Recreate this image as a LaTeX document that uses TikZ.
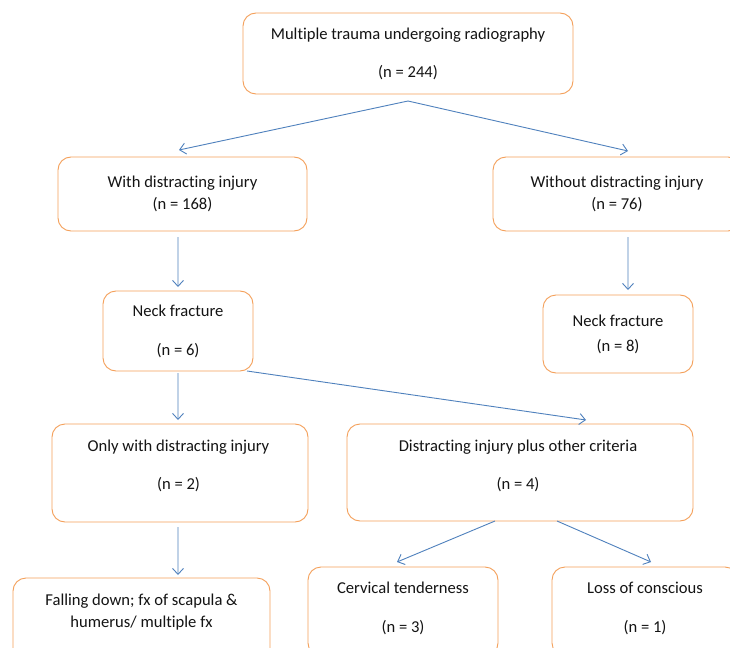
\documentclass[tikz,border=0pt]{standalone}
\usepackage{fontspec}
\setmainfont[Ligatures={NoCommon}]{Carlito}
\usetikzlibrary{arrows.meta}
\definecolor{boxorange}{RGB}{244,160,90}
\definecolor{arrblue}{RGB}{79,129,189}
\tikzset{
  box/.style={draw=boxorange, line width=0.9bp, rounded corners=13bp, inner sep=0pt, outer sep=0pt, fill=white},
  txt/.style={anchor=base, inner sep=0pt, font=\fontsize{16.6bp}{19bp}\selectfont, text=black!92},
  arr/.style={draw=arrblue, line width=0.9bp, -{Straight Barb[length=6bp,width=11bp]}}
}
\begin{document}
\begin{tikzpicture}[x=1bp,y=-1bp]
\fill[white] (0,0) rectangle (730,648);
\useasboundingbox (0,0) rectangle (730,648);
\begin{scope}
\clip (0,0) rectangle (730,648);
% boxes
\node[box, minimum width=330bp, minimum height=81bp] (b1) at (408,53.5) {};
\node[box, minimum width=249bp, minimum height=74bp] (b2) at (182.5,194) {};
\node[box, minimum width=248bp, minimum height=74bp] (b3) at (617,194) {};
\node[box, minimum width=150bp, minimum height=80bp] (b4) at (178,331) {};
\node[box, minimum width=150bp, minimum height=78bp] (b5) at (618,334) {};
\node[box, minimum width=256bp, minimum height=98bp] (b6) at (180,473) {};
\node[box, minimum width=346bp, minimum height=97bp] (b7) at (520,472.5) {};
\node[box, minimum width=257bp, minimum height=92bp] (b8) at (141.5,624) {};
\node[box, minimum width=190bp, minimum height=89bp] (b9) at (403,611.5) {};
\node[box, minimum width=186bp, minimum height=89bp] (b10) at (645,611.5) {};
% texts
\node[txt] (t1a) at (408,39.5) {Multiple trauma undergoing radiography};
\node[txt] (t1b) at (408,77.5) {(n = 244)};
\node[txt] (t2a) at (182.5,187.5) {With distracting injury};
\node[txt] (t2b) at (182.5,209.5) {(n = 168)};
\node[txt] (t3a) at (617,187.5) {Without distracting injury};
\node[txt] (t3b) at (617,210) {(n = 76)};
\node[txt] (t4a) at (178,316.5) {Neck fracture};
\node[txt] (t4b) at (178,355) {(n = 6)};
\node[txt] (t5a) at (618,326.5) {Neck fracture};
\node[txt] (t5b) at (618,351.5) {(n = 8)};
\node[txt] (t6a) at (178.5,451) {Only with distracting injury};
\node[txt] (t6b) at (178.5,489) {(n = 2)};
\node[txt] (t7a) at (518,451) {Distracting injury plus other criteria};
\node[txt] (t7b) at (518,489) {(n = 4)};
\node[txt] (t8a) at (141.5,605) {Falling down; fx of scapula \&};
\node[txt] (t8b) at (141.5,627) {humerus/ multiple fx};
\node[txt] (t9a) at (403,593.5) {Cervical tenderness};
\node[txt] (t9b) at (403,632) {(n = 3)};
\node[txt] (t10a) at (645,593.5) {Loss of conscious};
\node[txt] (t10b) at (645,632) {(n = 1)};
% arrows
\draw[arr] ([yshift=-7bp]b1.south) -- ([xshift=-3.5bp,yshift=7bp]b2.north);
\draw[arr] ([yshift=-7bp]b1.south) -- ([xshift=11bp,yshift=6bp]b3.north);
\draw[arr] ([xshift=-4.5bp,yshift=-6bp]b2.south) -- ([yshift=4bp]b4.north);
\draw[arr] ([xshift=11bp,yshift=-6bp]b3.south) -- ([xshift=10bp,yshift=5bp]b5.north);
\draw[arr] ([yshift=-2bp]b4.south) -- ([xshift=-2bp,yshift=4bp]b6.north);
\draw[arr] ([xshift=-6bp]b4.south east) -- ([xshift=66bp,yshift=4bp]b7.north);
\draw[arr] ([xshift=-2bp,yshift=-5bp]b6.south) -- ([xshift=36.5bp,yshift=3bp]b8.north);
\draw[arr] ([xshift=-25bp]b7.south) -- ([xshift=-6bp,yshift=5bp]b9.north);
\draw[arr] ([xshift=37bp]b7.south) -- ([xshift=6bp,yshift=5bp]b10.north);
\end{scope}
\end{tikzpicture}
\end{document}
